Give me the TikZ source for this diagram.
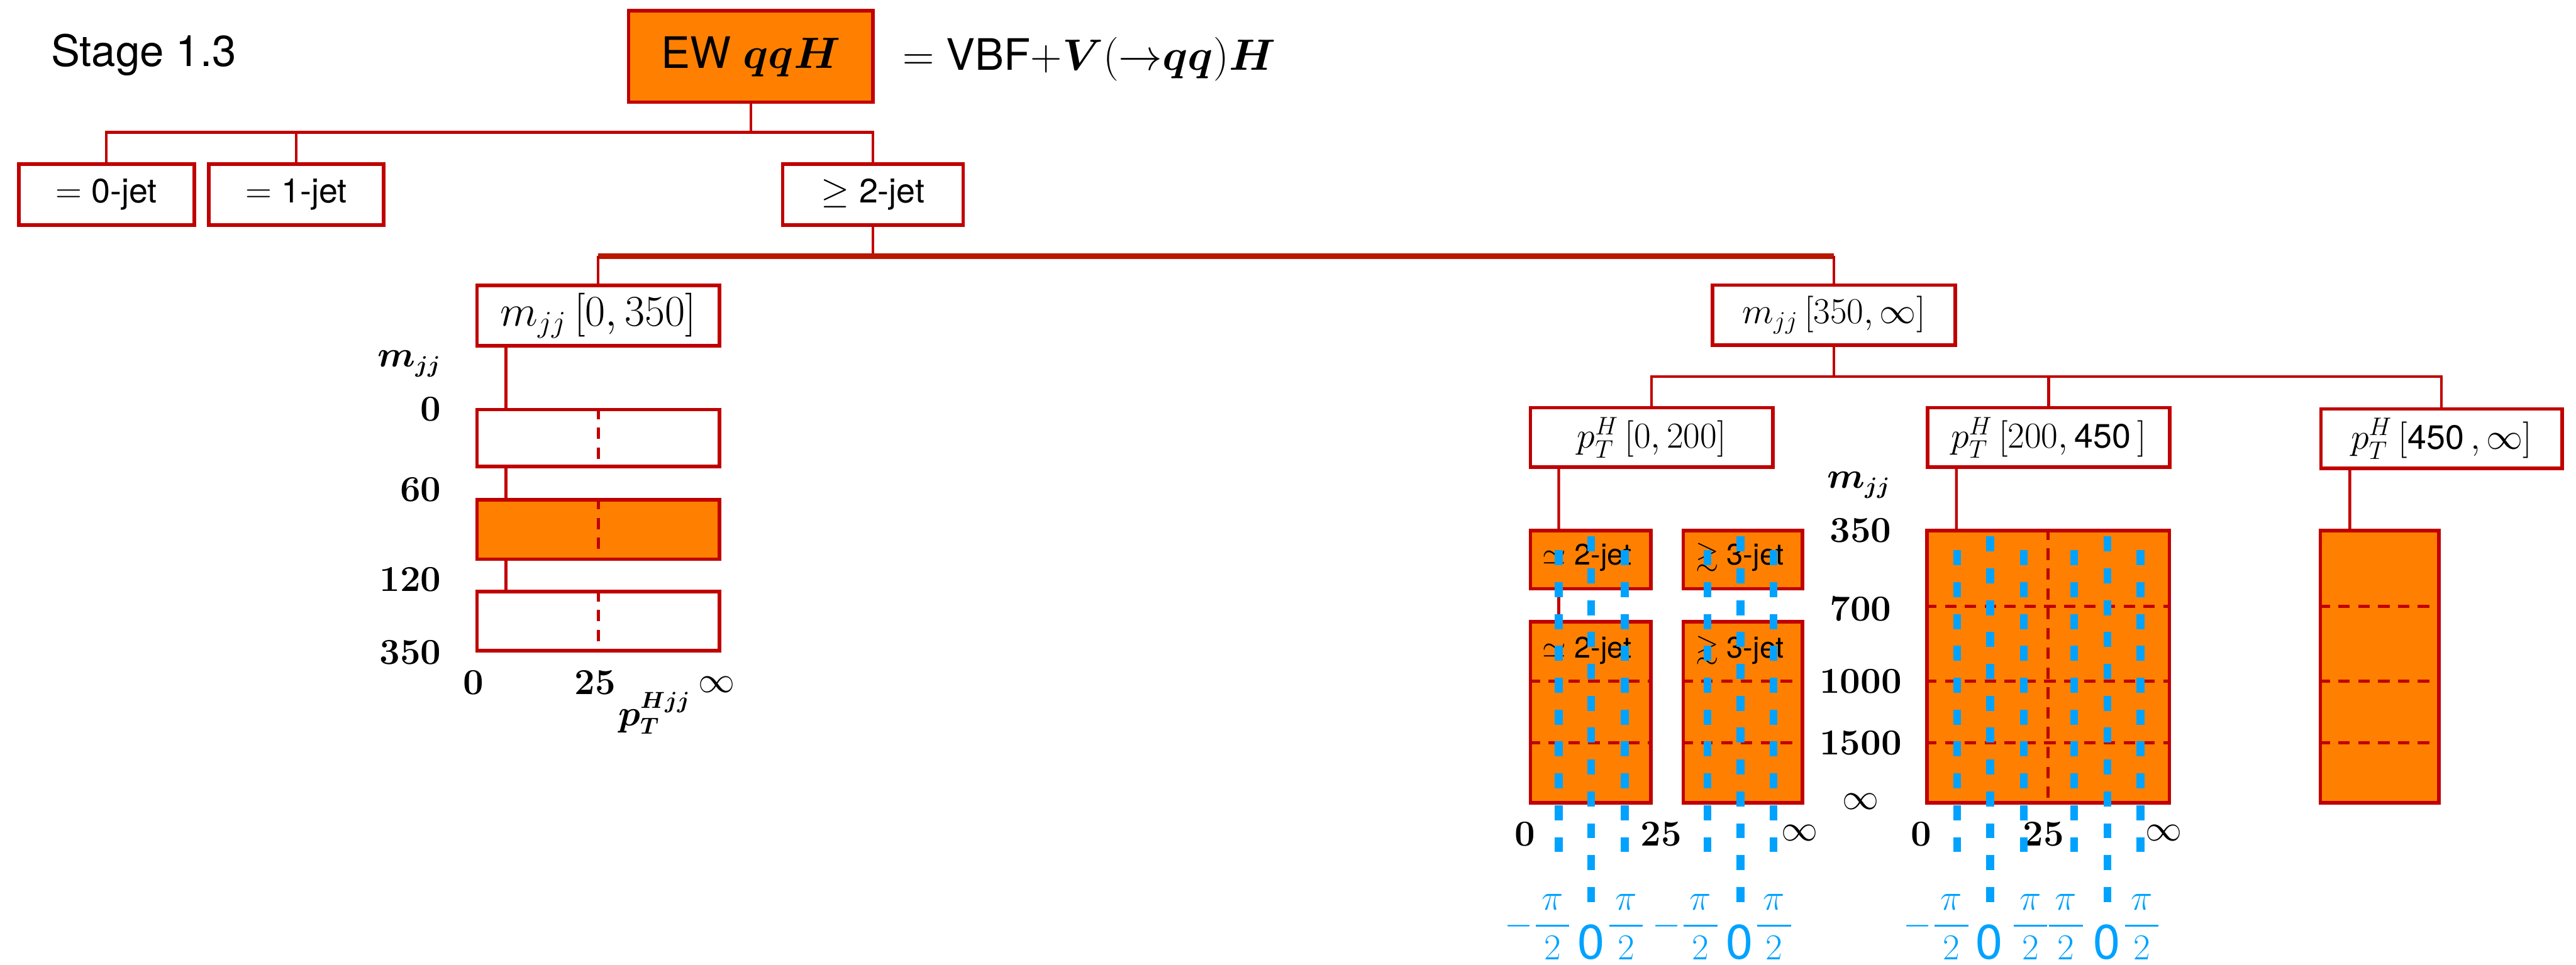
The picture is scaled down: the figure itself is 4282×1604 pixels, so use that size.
\documentclass[tikz,border=0pt]{standalone}
\usepackage{amsmath,amssymb}
\usepackage[no-math]{fontspec}
\setmainfont{TeX Gyre Heros}

\definecolor{treered}{RGB}{192,0,0}
\definecolor{trunkred}{RGB}{184,24,0}
\definecolor{binorange}{RGB}{255,128,0}
\definecolor{phiblue}{RGB}{0,162,255}

\newcommand{\sansnum}[1]{{\fontsize{16}{19}\selectfont #1}}

\begin{document}
\begin{tikzpicture}[x=0.1mm, y=-0.1mm,
  every node/.style={inner sep=0pt},
  box/.style={draw=treered, line width=0.6mm, fill=white},
  sig/.style={box, fill=binorange},
  link/.style={draw=treered, line width=0.45mm},
  trunk/.style={draw=trunkred, line width=1mm},
  cut/.style={draw=treered, line width=0.5mm, dash pattern=on 1.9mm off 1.4mm},
  dphi/.style={draw=phiblue, line width=1.3mm, dash pattern=on 2.5mm off 2.8mm},
  big/.style={font=\fontsize{20.5}{24}\selectfont},
  jet/.style={font=\fontsize{16}{19}\selectfont},
  rng/.style={font=\fontsize{18}{21}\selectfont},
  ax/.style={font=\fontsize{16}{19}\selectfont},
  injet/.style={font=\fontsize{14}{16}\selectfont},
  frac/.style={text=phiblue, font=\fontsize{17}{20}\selectfont, anchor=south},
  zero/.style={text=phiblue, font=\fontsize{23}{27}\selectfont, anchor=south}]

\useasboundingbox (0,0) rectangle (4282,1604);

\node[big, anchor=base west] (stage) at (84,110) {Stage 1.3};
\node[sig, big, minimum width=40.6mm, minimum height=15.2mm] (ew) at (1248,94) {EW $\boldsymbol{qqH}$};
\node[big, anchor=base west] (vbf) at (1500,117) {$=$ VBF$+\boldsymbol{V}({\rightarrow}\boldsymbol{qq})\boldsymbol{H}$};

\node[box, jet, minimum width=29.2mm, minimum height=10.1mm] (j0) at (177,323.5) {$=$ 0-jet};
\node[box, jet, minimum width=29.1mm, minimum height=10.1mm] (j1) at (492.5,323.5) {$=$ 1-jet};
\node[box, jet, minimum width=30mm, minimum height=10.1mm] (j2) at (1451,323.5) {$\geq$ 2-jet};

\draw[link] (ew.south) -- ++(0,47) -| (j0.north);
\draw[link] (ew.south) -- ++(0,47) -| (j1.north);
\draw[link] (ew.south) -- ++(0,47) -| (j2.north);

\node[box, rng, font=\fontsize{20}{24}\selectfont, minimum width=40.3mm, minimum height=10mm] (mlo) at (994.5,525) {$m_{jj}\,[0,350]$};
\node[box, rng, minimum width=40.3mm, minimum height=10mm] (mhi) at (3048.5,524) {$m_{jj}\,[350,\infty]$};

\draw[link] (j2.south) -- ++(0,49) coordinate (fork);
\draw[trunk] (fork -| mlo.north) -- (fork -| mhi.north);
\draw[link] (fork -| mlo.north) -- (mlo.north);
\draw[link] (fork -| mhi.north) -- (mhi.north);

\node[box, rng, minimum width=40.3mm, minimum height=9.9mm] (p1) at (2745.5,727.5) {$p_T^H\,[0,200]$};
\node[box, rng, minimum width=40.3mm, minimum height=9.9mm] (p2) at (3405.5,727.5) {$p_T^H\,[200,$\,\sansnum{450}\,$]$};
\node[box, rng, minimum width=40.1mm, minimum height=9.9mm] (p3) at (4058.5,729.5) {$p_T^H\,[$\sansnum{450}\,$,\infty]$};

\draw[link] (mhi.south) -- ++(0,49) -| (p1.north);
\draw[link] (mhi.south) -- ++(0,49) -| (p2.north);
\draw[link] (mhi.south) -- ++(0,49) -| (p3.north);

\node[box, minimum width=40.3mm, minimum height=9.5mm] (lo1) at (994.5,728.5) {};
\node[sig, minimum width=40.3mm, minimum height=9.9mm] (lo2) at (994.5,880.5) {};
\node[box, minimum width=40.3mm, minimum height=9.8mm] (lo3) at (994.5,1033) {};

\draw[link] ([xshift=5.1mm]mlo.south west) -- ([xshift=5.1mm]lo1.north west);
\draw[link] ([xshift=5.1mm]lo1.south west) -- ([xshift=5.1mm]lo2.north west);
\draw[link] ([xshift=5.1mm]lo2.south west) -- ([xshift=5.1mm]lo3.north west);
\foreach \b in {lo1,lo2,lo3}
  \draw[cut] (\b.north) -- (\b.south);

\node[ax, anchor=east] (mlab) at (734,605) {$\boldsymbol{m_{jj}}$};
\node[ax, anchor=east] (y0) at (734,680) {$\mathbf{0}$};
\node[ax, anchor=east] (y60) at (734,814) {$\mathbf{60}$};
\node[ax, anchor=east] (y120) at (734,964) {$\mathbf{120}$};
\node[ax, anchor=east] (y350) at (734,1085) {$\mathbf{350}$};
\node[ax, anchor=base] (x0) at (787,1155) {$\mathbf{0}$};
\node[ax, anchor=base] (x25) at (989,1155) {$\mathbf{25}$};
\node[ax, anchor=base] (xinf) at (1191,1152) {$\infty$};
\node[ax] (ptlab) at (1088,1186) {$\boldsymbol{p_T^{Hjj}}$};

\node[sig, minimum width=20mm, minimum height=9.7mm] (hA1) at (2644,930.5) {};
\node[sig, minimum width=19.8mm, minimum height=9.7mm] (hB1) at (2897,930.5) {};
\node[sig, minimum width=20mm, minimum height=30.1mm] (hA2) at (2644,1184.5) {};
\node[sig, minimum width=19.8mm, minimum height=30.1mm] (hB2) at (2897,1184.5) {};
\node[sig, minimum width=40.3mm, minimum height=45.3mm] (wide) at (3404.5,1108.5) {};
\node[sig, minimum width=19.7mm, minimum height=45.3mm] (tall) at (3955.5,1108.5) {};

\draw[link] ([xshift=5mm]p1.south west) -- ([xshift=5mm]hA1.north west);
\draw[link] ([xshift=5mm]hA1.south west) -- ([xshift=5mm]hA2.north west);
\draw[link] ([xshift=5.1mm]p2.south west) -- ([xshift=5.2mm]wide.north west);
\draw[link] ([xshift=5.1mm]p3.south west) -- ([xshift=5.2mm]tall.north west);

\foreach \y in {1133,1235} {
  \draw[cut] (2541,\y) -- (2747,\y);
  \draw[cut] (2795,\y) -- (2999,\y);
}
\foreach \y in {1008,1133,1235} {
  \draw[cut] (3200,\y) -- (3609,\y);
  \draw[cut] (3854,\y) -- (4057,\y);
}
\draw[cut] (wide.north) -- (wide.south);

\node[injet] (tA1) at (2638,927) {$\simeq$ 2-jet};
\node[injet] (tB1) at (2892,927) {$\gtrsim$ 3-jet};
\node[injet] (tA2) at (2638,1082) {$\simeq$ 2-jet};
\node[injet] (tB2) at (2892,1082) {$\gtrsim$ 3-jet};

\node[ax] (mlab2) at (3090,807) {$\boldsymbol{m_{jj}}$};
\node[ax] (r350) at (3093,882) {$\mathbf{350}$};
\node[ax] (r700) at (3093,1013) {$\mathbf{700}$};
\node[ax] (r1000) at (3093,1133) {$\mathbf{1000}$};
\node[ax] (r1500) at (3093,1235) {$\mathbf{1500}$};
\node[ax] (rinf) at (3093,1333) {$\infty$};

\node[ax] (a0) at (2535,1387) {$\mathbf{0}$};
\node[ax] (a25) at (2761,1387) {$\mathbf{25}$};
\node[ax] (ainf) at (2991,1385) {$\infty$};
\node[ax] (b0) at (3194,1387) {$\mathbf{0}$};
\node[ax] (b25) at (3397,1387) {$\mathbf{25}$};
\node[ax] (binf) at (3597,1385) {$\infty$};

\foreach \x in {2591,2701,2838,2948,3253,3364,3448,3558}
  \draw[dphi, dash phase=2.5mm] (\x,887) -- (\x,1420);
\foreach \x in {2645,2893,3308,3503}
  \draw[dphi] (\x,892) -- (\x,1503);

\node[frac] (fa1) at (2557,1597) {$-\dfrac{\,\pi\,}{2}$};
\node[zero] (za1) at (2645,1597) {0};
\node[frac] (fa2) at (2703,1597) {$\dfrac{\,\pi\,}{2}$};
\node[frac] (fb1) at (2803,1597) {$-\dfrac{\,\pi\,}{2}$};
\node[zero] (zb1) at (2892,1597) {0};
\node[frac] (fb2) at (2949,1597) {$\dfrac{\,\pi\,}{2}$};
\node[frac] (fc1) at (3220,1597) {$-\dfrac{\,\pi\,}{2}$};
\node[zero] (zc1) at (3307,1597) {0};
\node[frac] (fc2) at (3375,1597) {$\dfrac{\,\pi\,}{2}$};
\node[frac] (fc3) at (3434,1597) {$\dfrac{\,\pi\,}{2}$};
\node[zero] (zc2) at (3502,1597) {0};
\node[frac] (fc4) at (3560,1597) {$\dfrac{\,\pi\,}{2}$};
\end{tikzpicture}
\end{document}
